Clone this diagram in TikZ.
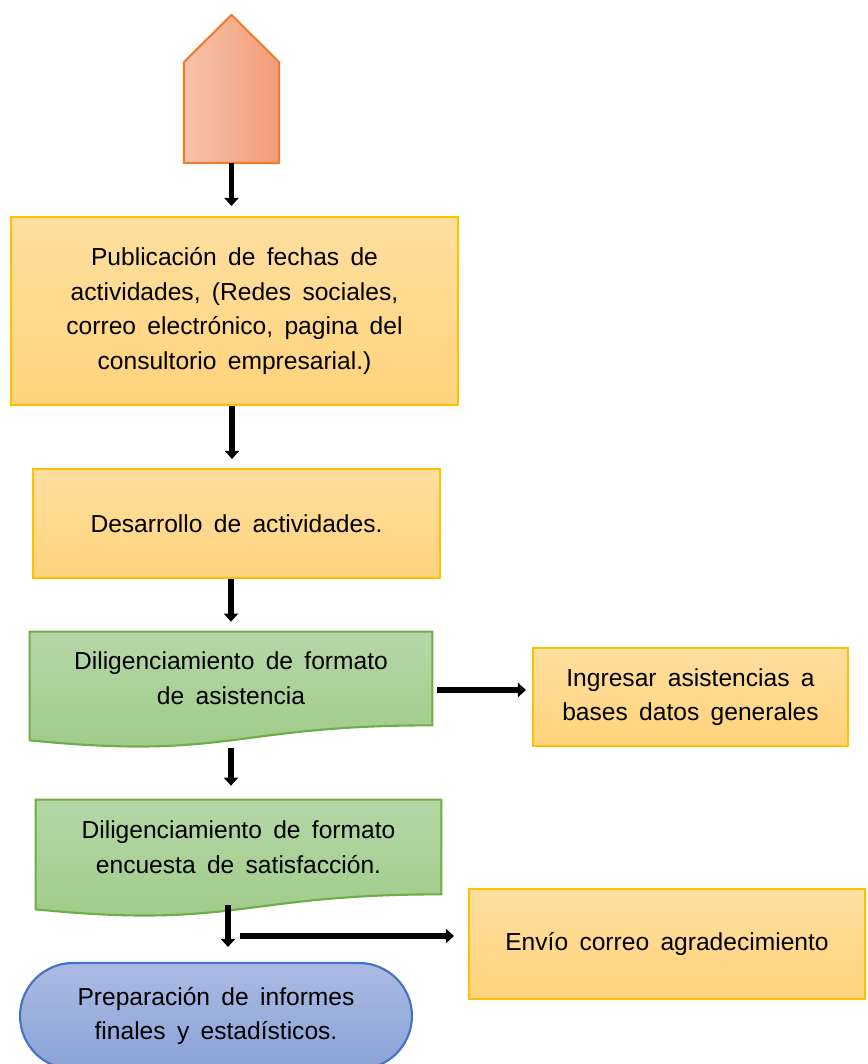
\documentclass[tikz,border=0pt]{standalone}
\usepackage{fontspec}
\setmainfont{Liberation Sans}
\usetikzlibrary{arrows.meta, positioning, calc, shapes.misc, backgrounds}
\definecolor{amarilloA}{HTML}{FFDF9F}
\definecolor{amarilloB}{HTML}{FFD37C}
\definecolor{amarilloBorde}{HTML}{FFC000}
\definecolor{verdeA}{HTML}{B6D7A8}
\definecolor{verdeB}{HTML}{9ECA86}
\definecolor{verdeBorde}{HTML}{70AD47}
\definecolor{azulA}{HTML}{ABBAE2}
\definecolor{azulB}{HTML}{8BA3D8}
\definecolor{azulBorde}{HTML}{4472C4}
\definecolor{naranjaA}{HTML}{F7C3AA}
\definecolor{naranjaB}{HTML}{F29C79}
\definecolor{naranjaBorde}{HTML}{ED7D31}
\newcommand{\textonodo}{\fontsize{14}{19.7}\selectfont\spaceskip=0.46em\relax}
\tikzset{
  caja/.style={draw=amarilloBorde, line width=1.2pt, align=center, top color=amarilloA, bottom color=amarilloB, inner sep=0pt},
  documento/.style={align=center, inner sep=0pt},
  docfondo/.style={draw=verdeBorde, line width=1.2pt, top color=verdeA, bottom color=verdeB},
  terminal/.style={draw=azulBorde, line width=1.2pt, align=center, rounded rectangle, top color=azulA, bottom color=azulB, inner sep=0pt},
  flecha/.style={-{Triangle[length=1.6mm, width=2.8mm]}, line width=3.2pt, black},
  every node/.style={font=\textonodo}
}
\begin{document}
\begin{tikzpicture}[x=0.02cm, y=0.02cm]
    \useasboundingbox (0,0) rectangle (867,-1064);
    \clip (0,0) rectangle (867,-1064);

    % inicio
    \path[draw=naranjaBorde, line width=1.2pt, left color=naranjaA, right color=naranjaB]
      (184,-163) -- (184,-62) -- (231.5,-15) -- (279,-62) -- (279,-163) -- cycle;
    \coordinate (inicio) at (231.5,-163);

    \node[caja, minimum width=8.94cm, minimum height=3.76cm] (publicacion) at (234.5,-311)
      {Publicación de fechas de\\actividades, (Redes sociales,\\correo electrónico, pagina del\\consultorio empresarial.)};
    \node[caja, minimum width=8.14cm, minimum height=2.18cm] (desarrollo) at (236.5,-523.5)
      {Desarrollo de actividades.};
    \node[documento, minimum width=8.04cm, minimum height=1.86cm] (asistencia) at (231,-678.5)
      {Diligenciamiento de formato\\de asistencia};
    \node[caja, minimum width=6.3cm, minimum height=1.96cm] (ingresar) at (690.5,-697)
      {Ingresar asistencias a\\bases datos generales};
    \node[documento, minimum width=8.1cm, minimum height=1.88cm] (encuesta) at (238.5,-847)
      {Diligenciamiento de formato\\encuesta de satisfacción.};
    \node[caja, minimum width=7.92cm, minimum height=2.2cm] (envio) at (667,-944)
      {Envío correo agradecimiento};
    \node[terminal, minimum width=7.84cm, minimum height=2.12cm] (informe) at (216,-1016)
      {Preparación de informes\\finales y estadísticos.};

    % fondos de los documentos
    \begin{scope}[on background layer]
      \foreach \d in {asistencia, encuesta}
        \path[docfondo] (\d.north west) -- (\d.north east) -- (\d.south east)
          .. controls +(-201,0) and +(201,-20) .. ($(\d.south west)+(0,-15)$) -- cycle;
    \end{scope}

    \coordinate (rama) at (240,-936);

    \draw[flecha, shorten >=0.2cm] (inicio) -- (inicio |- publicacion.north);
    \draw[flecha, shorten >=0.18cm] ([xshift=-0.05cm]publicacion.south) -- ([xshift=-0.05cm]publicacion.south |- desarrollo.north);
    \draw[flecha, shorten >=0.2cm] (asistencia.north |- desarrollo.south) -- (asistencia.north);
    \draw[flecha, shorten <=0.46cm, shorten >=0.28cm] (asistencia.south) -- (asistencia.south |- encuesta.north);
    \draw[flecha, shorten <=0.1cm, shorten >=0.12cm] ([yshift=-0.23cm]asistencia.east) -- ([yshift=-0.23cm]asistencia.east -| ingresar.west);
    \draw[flecha, shorten <=0.22cm, shorten >=0.3cm] ([xshift=-0.21cm]encuesta.south) -- ([xshift=-0.21cm]encuesta.south |- informe.north);
    \draw[flecha, shorten >=0.28cm] (rama) -- (rama -| envio.west);
\end{tikzpicture}
\end{document}
